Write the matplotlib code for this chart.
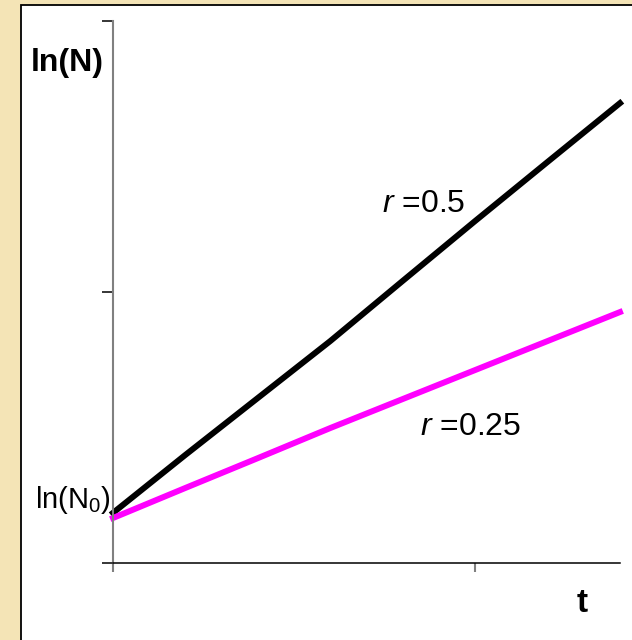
import matplotlib
matplotlib.use("Agg")
import matplotlib.pyplot as plt
from matplotlib.patches import Rectangle

plt.rcParams['font.family'] = ['Liberation Sans', 'DejaVu Sans']
plt.rcParams['mathtext.fontset'] = 'custom'
plt.rcParams['mathtext.rm'] = 'Liberation Sans'
plt.rcParams['mathtext.it'] = 'Liberation Sans:italic'
plt.rcParams['mathtext.bf'] = 'Liberation Sans:bold'

# time steps and ln(N)
t = [0, 1, 2, 3, 4, 5, 6, 7]
ln_n_fast = [0.185, 0.399, 0.609, 0.819, 1.041, 1.262, 1.480, 1.697]   # r=0.5
ln_n_slow = [0.166, 0.277, 0.387, 0.498, 0.605, 0.712, 0.819, 0.926]   # r=0.25

fig = plt.figure(figsize=(6.32, 6.40), dpi=100)
fig.patch.set_facecolor('#f4e4b6')

# white slide panel
panel = Rectangle((21 / 632, -0.1), 1.2, 1.1 - 5 / 640, transform=fig.transFigure,
                  facecolor='white', edgecolor='black', lw=1.3, zorder=-5)
fig.patches.append(panel)

ax = fig.add_axes([113 / 632, 1 - 563 / 640, 507 / 632, 542 / 640])
ax.set_zorder(2)
ax.set_facecolor('none')

ax.plot(t, ln_n_fast, color='black', lw=4.3, solid_joinstyle='round', clip_on=False)
ax.plot(t, ln_n_slow, color='#ff00ff', lw=4.3, solid_joinstyle='round', clip_on=False)

ax.set_xlim(0, 7)
ax.set_ylim(0, 2)

for side in ['top', 'right']:
    ax.spines[side].set_visible(False)
ax.spines['left'].set_color('#808080')
ax.spines['left'].set_linewidth(1.5)
ax.spines['bottom'].set_color('black')
ax.spines['bottom'].set_linewidth(1.1)

ax.set_xticks([0, 5])
ax.set_yticks([0, 1, 2])
ax.set_xticklabels([])
ax.set_yticklabels([])
ax.tick_params(axis='x', direction='out', length=6.5, width=1.5, color='#808080')
ax.tick_params(axis='y', direction='out', length=8, width=1.1, color='black')

fig.text(67 / 632, 1 - 63 / 640, 'ln(N)', fontsize=23, fontweight='bold',
         ha='center', va='center', zorder=3)
fig.text(582 / 632, 1 - 604 / 640, 't', fontsize=24, fontweight='bold',
         ha='center', va='center', zorder=3)
fig.text(111 / 632, 1 - 500 / 640, r'ln(N$_0$)', fontsize=21,
         ha='right', va='center', zorder=3)
fig.text(424 / 632, 1 - 204 / 640, r'$r$ =0.5', fontsize=23,
         ha='center', va='center', zorder=3)
fig.text(471 / 632, 1 - 427 / 640, r'$r$ =0.25', fontsize=23,
         ha='center', va='center', zorder=3)

fig.savefig('out.png', dpi=100, facecolor=fig.get_facecolor())
